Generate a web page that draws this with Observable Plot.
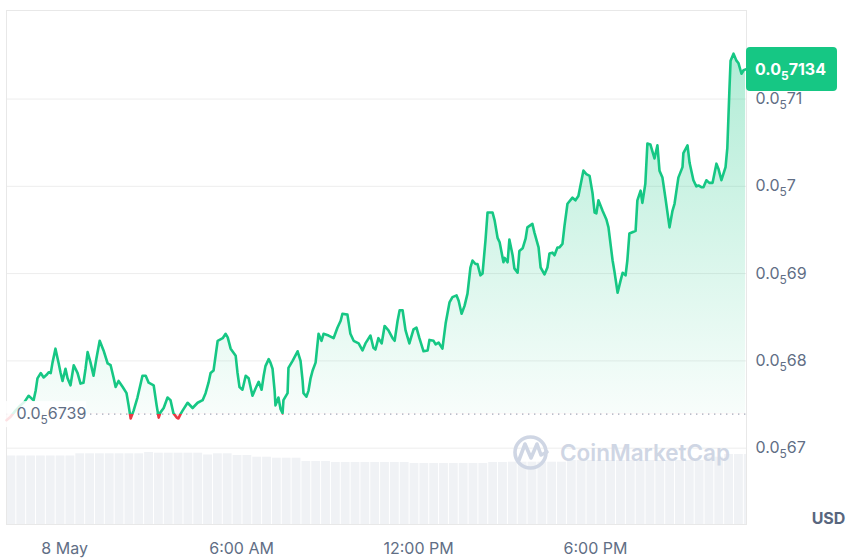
<!DOCTYPE html>
<html>
<head>
<meta charset="utf-8">
<script src="https://cdn.jsdelivr.net/npm/d3@7"></script>
<script src="https://cdn.jsdelivr.net/npm/@observablehq/plot@0.6"></script>
<style>
  html, body { margin: 0; padding: 0; background: #fff; }
  #wrap { position: relative; width: 855px; height: 559px; font-family: Inter, "Noto Sans", sans-serif; }
  #wrap svg { position: absolute; left: 0; top: 0; }
</style>
</head>
<body>
<div id="wrap"></div>
<script>
// Price values are in units of 1e-6 USD (6.739 => 0.0₅6739 = 0.000006739)
// Time values are hours relative to 8 May 00:00
const hours = [
  -1.97,-1.83,-1.69,-1.53,-1.36,-1.22,-1.12,-1.05,-0.98,-0.92,
  -0.81,-0.71,-0.61,-0.54,-0.47,-0.41,-0.31,-0.20,-0.14,-0.07,
  0.03,0.10,0.20,0.31,0.37,0.44,0.54,0.64,0.71,0.78,
  0.88,0.98,1.08,1.19,1.32,1.46,1.56,1.66,1.73,1.83,
  1.97,2.10,2.17,2.24,2.34,2.47,2.58,2.64,2.75,2.85,
  3.02,3.12,3.19,3.25,3.36,3.49,3.59,3.69,3.80,3.86,
  3.93,4.00,4.17,4.34,4.51,4.68,4.78,4.88,4.95,5.05,
  5.12,5.19,5.36,5.46,5.53,5.63,5.80,5.86,5.93,6.03,
  6.14,6.24,6.37,6.47,6.58,6.68,6.75,6.81,6.92,6.98,
  7.05,7.12,7.15,7.25,7.32,7.39,7.42,7.56,7.59,7.73,
  7.90,8.00,8.07,8.10,8.20,8.27,8.34,8.41,8.51,8.61,
  8.71,8.78,8.95,9.12,9.25,9.36,9.42,9.59,9.69,9.80,
  9.97,10.10,10.20,10.37,10.47,10.54,10.64,10.75,10.85,10.98,
  11.12,11.19,11.29,11.36,11.46,11.56,11.69,11.83,11.93,12.03,
  12.17,12.31,12.37,12.51,12.58,12.68,12.81,12.92,13.05,13.15,
  13.29,13.36,13.46,13.56,13.66,13.76,13.83,13.93,14.00,14.10,
  14.17,14.27,14.34,14.51,14.58,14.68,14.75,14.88,14.92,15.02,
  15.08,15.19,15.25,15.36,15.42,15.53,15.63,15.69,15.86,15.93,
  16.07,16.14,16.27,16.37,16.44,16.54,16.61,16.71,16.78,16.88,
  16.95,17.05,17.22,17.32,17.42,17.59,17.69,17.80,17.90,17.97,
  18.03,18.10,18.24,18.37,18.44,18.58,18.64,18.75,18.85,18.92,
  19.02,19.08,19.15,19.29,19.36,19.42,19.53,19.59,19.69,19.76,
  19.86,20.00,20.10,20.17,20.27,20.37,20.51,20.61,20.68,20.81,
  20.95,20.98,21.12,21.19,21.32,21.42,21.49,21.59,21.66,21.76,
  21.86,21.97,22.10,22.17,22.27,22.41,22.47,22.54,22.58,22.68,
  22.78,22.85,22.95,23.02,23.09
];
const prices = [
  6.732,6.736,6.742,6.748,6.753,6.760,6.757,6.755,6.766,6.780,
  6.786,6.781,6.784,6.787,6.786,6.798,6.814,6.797,6.787,6.777,
  6.791,6.780,6.772,6.795,6.791,6.786,6.774,6.775,6.791,6.810,
  6.798,6.783,6.803,6.823,6.812,6.797,6.795,6.781,6.770,6.777,
  6.770,6.763,6.749,6.734,6.743,6.758,6.774,6.783,6.783,6.775,
  6.772,6.749,6.735,6.741,6.746,6.758,6.755,6.740,6.735,6.734,
  6.739,6.743,6.752,6.746,6.752,6.755,6.763,6.775,6.786,6.789,
  6.806,6.823,6.826,6.831,6.827,6.814,6.806,6.787,6.770,6.767,
  6.783,6.780,6.760,6.768,6.776,6.767,6.783,6.794,6.802,6.798,
  6.791,6.766,6.749,6.758,6.745,6.740,6.755,6.763,6.792,6.800,
  6.811,6.800,6.777,6.763,6.759,6.766,6.780,6.789,6.798,6.831,
  6.823,6.831,6.829,6.826,6.838,6.846,6.854,6.853,6.831,6.823,
  6.820,6.812,6.820,6.829,6.815,6.813,6.826,6.820,6.840,6.835,
  6.826,6.823,6.846,6.858,6.858,6.835,6.820,6.836,6.838,6.826,
  6.811,6.812,6.824,6.823,6.819,6.821,6.814,6.843,6.867,6.873,
  6.875,6.869,6.854,6.863,6.877,6.907,6.915,6.911,6.911,6.898,
  6.900,6.938,6.970,6.970,6.961,6.941,6.936,6.913,6.918,6.913,
  6.939,6.921,6.906,6.901,6.926,6.929,6.940,6.953,6.957,6.947,
  6.930,6.907,6.899,6.907,6.923,6.924,6.921,6.930,6.930,6.934,
  6.955,6.980,6.987,6.984,6.989,7.018,7.014,7.012,6.992,6.970,
  6.969,6.984,6.972,6.962,6.953,6.915,6.903,6.878,6.892,6.901,
  6.898,6.915,6.946,6.948,6.949,6.984,6.995,6.981,7.003,7.049,
  7.048,7.032,7.047,7.018,7.010,6.987,6.953,6.972,6.980,7.010,
  7.022,7.038,7.047,7.027,7.007,7.000,7.001,6.999,6.999,7.007,
  7.004,7.004,7.026,7.020,7.007,7.022,7.044,7.110,7.144,7.152,
  7.144,7.141,7.129,7.133,7.134
];
// Volume bars (relative units), one per 20 minutes starting at the left edge
const volumeStart = -1.97;
const volumeStep = 1 / 3;
const volumes = [
  68.5,68.5,68.5,68.5,68.5,68.5,68.5,
  70.7,70.7,70.7,70.7,70.7,70.7,70.7,
  72,71.3,71.3,71.3,71.3,71.3,
  69.5,70.7,70.7,69,69,67.3,67.3,66.3,66.3,66.3,
  63,63,63,62,62,62,62,62,62,62,62,
  61,61,61,61,61,61,61,61,62,62,
  62.3,62.3,62.3,62.3,62.3,62.3,
  64,64,64,64,64,64,64,64,64,64,64,64,64,64,
  67.3,67.3,70,70,70
];
const baseline = 6.739;
const lastPrice = 7.134;
const yTicks = [6.7, 6.8, 6.9, 7.0, 7.1];
const xTicks = [0, 6, 12, 18];
const xTickLabels = ["8 May", "6:00 AM", "12:00 PM", "6:00 PM"];
const currencyLabel = "USD";
const watermark = "CoinMarketCap";

const xDomain = [-1.97, 23.12];
const yDomain = [6.6125, 7.2015];
const W = 855, H = 559, mL = 6, mR = 109, mT = 10, mB = 35;
const green = "#16c784", red = "#ea3943", labelColor = "#616e85";

const fmtSub = v => "0.0\u2085" + v.toFixed(3).replace(/0+$/, "").replace(/\.$/, "").replace(".", "");

const data = hours.map((t, i) => ({t, p: prices[i]}));
const vol = volumes.map((v, i) => ({t0: volumeStart + i * volumeStep, t1: volumeStart + (i + 1) * volumeStep, v}));

const wrap = document.getElementById("wrap");

// Volume layer (behind)
const volChart = Plot.plot({
  width: W, height: H,
  marginLeft: mL, marginRight: mR, marginTop: 424, marginBottom: mB,
  x: {domain: xDomain, axis: null},
  y: {domain: [0, 100], axis: null},
  marks: [
    Plot.rectY(vol, {x1: "t0", x2: "t1", y: "v", fill: "#f0f2f5", insetLeft: 0.5, insetRight: 0.5, clip: true})
  ]
});
wrap.appendChild(volChart);

// Price layer
const chart = Plot.plot({
  width: W, height: H,
  marginLeft: mL, marginRight: mR, marginTop: mT, marginBottom: mB,
  style: {background: "transparent", fontFamily: "Inter, 'Noto Sans', sans-serif", fontSize: "16px", color: labelColor, overflow: "visible"},
  x: {domain: xDomain, axis: null},
  y: {domain: yDomain, axis: null},
  marks: [
    Plot.ruleY(yTicks, {stroke: "#ededed", strokeWidth: 1}),
    Plot.frame({stroke: "#e8e8e8"}),
    Plot.ruleY([baseline], {stroke: "#a3aabb", strokeWidth: 1.4, strokeDasharray: "1.4 4.6"}),
    Plot.areaY(data, {x: "t", y1: baseline, y2: "p", fill: "url(#upGrad)"}),
    Plot.areaY(data, {x: "t", y1: baseline, y2: "p", fill: red, fillOpacity: 0.12}),
    Plot.line(data, {x: "t", y: "p", stroke: green, strokeWidth: 2.6, strokeLinejoin: "round"}),
    Plot.line(data, {x: "t", y: "p", stroke: red, strokeWidth: 2.6, strokeLinejoin: "round"}),
    Plot.text(yTicks, {x: xDomain[1], y: d => d, text: d => fmtSub(d), dx: 9, textAnchor: "start", fill: labelColor, fontSize: 16}),
    Plot.text(xTicks, {x: d => d, y: yDomain[0], text: d => xTickLabels[xTicks.indexOf(d)], dy: 24, fill: labelColor, fontSize: 16}),
    Plot.text([currencyLabel], {x: xDomain[1], y: yDomain[0], text: d => d, dx: 82, dy: -6, fill: "#58667e", fontSize: 16, fontWeight: 700}),
    Plot.text([baseline], {x: xDomain[0], y: d => d, text: d => fmtSub(d), dx: 10, textAnchor: "start", fill: labelColor, fontSize: 16})
  ]
});
wrap.appendChild(chart);

const svg = d3.select(chart);
const ys = chart.scale("y"), xs = chart.scale("x");
const yb = ys.apply(baseline);
const defs = svg.insert("defs", ":first-child");
const grad = defs.append("linearGradient").attr("id", "upGrad")
  .attr("gradientUnits", "userSpaceOnUse").attr("x1", 0).attr("x2", 0)
  .attr("y1", ys.apply(lastPrice)).attr("y2", yb);
grad.append("stop").attr("offset", 0).attr("stop-color", green).attr("stop-opacity", 0.32);
grad.append("stop").attr("offset", 1).attr("stop-color", green).attr("stop-opacity", 0.03);
defs.append("clipPath").attr("id", "clipUp").append("rect").attr("x", 0).attr("y", 0).attr("width", W).attr("height", yb);
defs.append("clipPath").attr("id", "clipDown").append("rect").attr("x", 0).attr("y", yb).attr("width", W).attr("height", H - yb);

svg.selectAll('[fill="url(#upGrad)"]').attr("clip-path", "url(#clipUp)");
svg.selectAll(`[stroke="${green}"]`).attr("clip-path", "url(#clipUp)");
svg.selectAll(`[fill="${red}"]`).attr("clip-path", "url(#clipDown)");
svg.selectAll(`[stroke="${red}"]`).attr("clip-path", "url(#clipDown)");

// subscript rendering for 0.0₅xx labels
function subscriptify(el, big, small, shift) {
  const s = el.textContent;
  const m = s.match(/^(0\.0)\u2085(.*)$/);
  if (!m) return;
  const t = d3.select(el);
  t.text("");
  t.append("tspan").text(m[1]);
  t.append("tspan").attr("font-size", small).attr("dy", shift).text("5");
  t.append("tspan").attr("font-size", big).attr("dy", -shift).text(m[2]);
}
svg.selectAll("text").each(function() {
  if (this.textContent.indexOf("\u2085") >= 0) subscriptify(this, 16, 12, 5);
});

// white backing for the baseline label
svg.selectAll("text").filter(function() { return this.textContent === "0.056739"; }).each(function() {
  const bb = this.getBBox();
  const node = this;
  d3.select(node.parentNode).insert("rect", () => node)
    .attr("x", bb.x - 6).attr("y", yb - 13).attr("width", bb.width + 12).attr("height", 26)
    .attr("fill", "#fff").attr("fill-opacity", 0.85);
});

// current price label
const yl = ys.apply(lastPrice);
const xr = xs.apply(xDomain[1]);
const lab = svg.append("g").attr("text-anchor", "start");
lab.append("rect").attr("x", xr).attr("y", yl - 22).attr("width", 91).attr("height", 44).attr("rx", 4).attr("fill", green);
const lt = lab.append("text").attr("x", xr + 9).attr("y", yl).attr("dy", "0.35em").attr("text-anchor", "start")
  .attr("fill", "#fff").attr("font-size", 16).attr("font-weight", 700).text(fmtSub(lastPrice));
subscriptify(lt.node(), 16, 12, 5);

// watermark
const wm = svg.append("g").attr("fill", "none").attr("stroke", "#cfd6e4");
wm.append("circle").attr("cx", 530.5).attr("cy", 452.5).attr("r", 15.5).attr("stroke-width", 3.6);
wm.append("path").attr("d", "M519,460 L525,444 L531,458 L537,444 L541,455 L547,452")
  .attr("stroke-width", 3.6).attr("stroke-linejoin", "round").attr("stroke-linecap", "round");
svg.append("text").attr("x", 560).attr("y", 461).attr("text-anchor", "start").attr("fill", "#cfd6e4")
  .attr("font-size", 22.5).attr("font-weight", 600).text(watermark);
</script>
</body>
</html>
